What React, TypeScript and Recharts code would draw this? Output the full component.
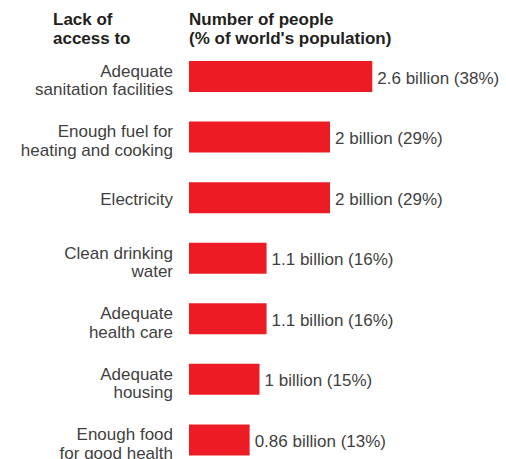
import React from "react"
import { BarChart, Bar, XAxis, YAxis, LabelList } from "recharts"

const categories = [
  "Adequate\nsanitation facilities",
  "Enough fuel for\nheating and cooking",
  "Electricity",
  "Clean drinking\nwater",
  "Adequate\nhealth care",
  "Adequate\nhousing",
  "Enough food\nfor good health",
]
const billions = [2.6, 2, 2, 1.1, 1.1, 1, 0.86]
const shares = [38, 29, 29, 16, 16, 15, 13]

const data = categories.map((name, i) => ({
  name,
  value: billions[i],
  share: shares[i],
}))

const FONT = '"Liberation Sans", Arial, Helvetica, sans-serif'
const RED = "#ed1c24"
const TEXT = "#3f3f3f"

const CategoryTick = ({ x, y, payload }: any) => {
  const lines = String(payload.value).split("\n")
  const first = lines.length > 1 ? y + 0.5 : y + 8
  return (
    <text x={x} y={first} textAnchor="end" fill={TEXT} fontSize={17} fontFamily={FONT}>
      {lines.map((l, i) => (
        <tspan key={i} x={x} y={first + i * 18.5}>
          {l}
        </tspan>
      ))}
    </text>
  )
}

const ValueLabel = ({ x, y, width, height, index }: any) => {
  const d = data[index]
  return (
    <text
      x={x + width + 5}
      y={y + height / 2 + 7}
      fill={TEXT}
      fontSize={17}
      fontFamily={FONT}
    >
      {`${d.value} billion (${d.share}%)`}
    </text>
  )
}

export default function App() {
  return (
    <div
      style={{
        position: "absolute",
        left: 0,
        top: 0,
        width: 506,
        height: 459,
        overflow: "hidden",
        background: "#fff",
      }}
    >
      <svg
        width={506}
        height={60}
        style={{ position: "absolute", left: 0, top: 0 }}
        fontFamily={FONT}
        fontWeight="bold"
        fontSize={17}
        fill="#231f20"
      >
        <text x={53} y={25}>Lack of</text>
        <text x={53} y={44}>access to</text>
        <text x={189} y={25}>Number of people</text>
        <text x={189} y={44}>(% of world's population)</text>
      </svg>
      <BarChart
        width={506}
        height={470}
        data={data}
        layout="vertical"
        margin={{ top: 46, right: 35, bottom: 0, left: 0 }}
      >
        <XAxis type="number" domain={[0, 4]} hide />
        <YAxis
          type="category"
          dataKey="name"
          width={189}
          tickLine={false}
          axisLine={false}
          tickSize={0}
          tickMargin={16}
          tick={<CategoryTick />}
          interval={0}
        />
        <Bar dataKey="value" fill={RED} barSize={31} isAnimationActive={false}>
          <LabelList dataKey="value" content={<ValueLabel />} />
        </Bar>
      </BarChart>
    </div>
  )
}
